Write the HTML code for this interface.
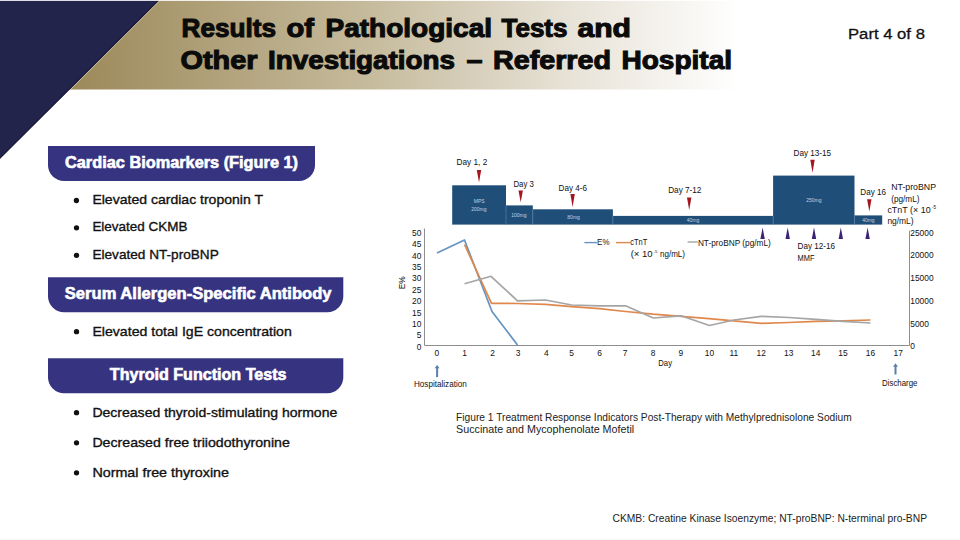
<!DOCTYPE html>
<html><head><meta charset="utf-8">
<style>
html,body{margin:0;padding:0;background:#fff;width:960px;height:540px;overflow:hidden}
svg{display:block}
text{font-family:"Liberation Sans",sans-serif}
</style></head>
<body>
<svg width="960" height="540" viewBox="0 0 960 540">
<defs>
<linearGradient id="gold" x1="70" y1="0" x2="740" y2="0" gradientUnits="userSpaceOnUse">
<stop offset="0" stop-color="#9c895a"/>
<stop offset="0.45" stop-color="#c6bb9d"/>
<stop offset="0.75" stop-color="#e8e3d8"/>
<stop offset="1" stop-color="#ffffff"/>
</linearGradient>
</defs>
<rect width="960" height="540" fill="#fff"/>
<!-- header band -->
<rect x="0" y="0" width="960" height="89.5" fill="url(#gold)"/>
<polygon points="0,0 159.5,0 0,158.8" fill="#23244b"/>
<line x1="160.3" y1="0" x2="70.6" y2="89.5" stroke="#cfc4a0" stroke-width="0.9"/>
<polygon points="159.5,0 0,158.8 0,157.5 158.2,0" fill="#15163a"/>
<rect x="0" y="0" width="960" height="1" fill="#fff" opacity="0.85"/>
<g fill="#0b0b0b" stroke="#0b0b0b" stroke-width="1.1" font-weight="bold" font-size="26.5">
<text x="181.5" y="37.2" textLength="94.5" lengthAdjust="spacingAndGlyphs">Results</text>
<text x="286.5" y="37.2" textLength="27.5" lengthAdjust="spacingAndGlyphs">of</text>
<text x="325.5" y="37.2" textLength="166.5" lengthAdjust="spacingAndGlyphs">Pathological</text>
<text x="501.5" y="37.2" textLength="66.0" lengthAdjust="spacingAndGlyphs">Tests</text>
<text x="577.5" y="37.2" textLength="53.5" lengthAdjust="spacingAndGlyphs">and</text>
<text x="180.5" y="69.3" textLength="77.0" lengthAdjust="spacingAndGlyphs">Other</text>
<text x="268.0" y="69.3" textLength="187.0" lengthAdjust="spacingAndGlyphs">Investigations</text>
<text x="466.5" y="69.3" textLength="16.0" lengthAdjust="spacingAndGlyphs">–</text>
<text x="493.0" y="69.3" textLength="118.0" lengthAdjust="spacingAndGlyphs">Referred</text>
<text x="621.5" y="69.3" textLength="110.5" lengthAdjust="spacingAndGlyphs">Hospital</text>
</g>
<text x="848" y="39" font-size="14.7" fill="#111" stroke="#111" stroke-width="0.3" textLength="76.9" lengthAdjust="spacingAndGlyphs">Part 4 of 8</text>

<!-- section boxes -->
<g fill="#363481">
<path d="M48,146 H315 V165 A16,16 0 0 1 299,181 H64 A16,16 0 0 1 48,165 Z"/>
<path d="M48,277.3 H343.3 V296.3 A16,16 0 0 1 327.3,312.3 H64 A16,16 0 0 1 48,296.3 Z"/>
<path d="M48,358.3 H343.3 V377.3 A16,16 0 0 1 327.3,393.3 H64 A16,16 0 0 1 48,377.3 Z"/>
</g>
<g fill="#fff" stroke="#fff" stroke-width="0.6" font-weight="bold" font-size="16">
<text x="65" y="167.6" textLength="233" lengthAdjust="spacingAndGlyphs">Cardiac Biomarkers (Figure 1)</text>
<text x="64.8" y="298.8" textLength="266.7" lengthAdjust="spacingAndGlyphs">Serum Allergen-Specific Antibody</text>
<text x="109.8" y="379.6" textLength="176.7" lengthAdjust="spacingAndGlyphs">Thyroid Function Tests</text>
</g>

<!-- bullets -->
<g fill="#111">
<circle cx="76.4" cy="200.5" r="2.65"/>
<circle cx="76.5" cy="227.8" r="2.65"/>
<circle cx="76.5" cy="255.3" r="2.65"/>
<circle cx="76.5" cy="331.7" r="2.65"/>
<circle cx="76.5" cy="412.7" r="2.65"/>
<circle cx="76.5" cy="442.8" r="2.65"/>
<circle cx="76.5" cy="472.8" r="2.65"/>
</g>
<g fill="#111" stroke="#111" stroke-width="0.35" font-size="13.5">
<text x="92.4" y="203.8" textLength="170.6" lengthAdjust="spacingAndGlyphs">Elevated cardiac troponin T</text>
<text x="92.4" y="231.3" textLength="95" lengthAdjust="spacingAndGlyphs">Elevated CKMB</text>
<text x="92.4" y="258.8" textLength="126.4" lengthAdjust="spacingAndGlyphs">Elevated NT-proBNP</text>
<text x="92.4" y="335.5" textLength="199.4" lengthAdjust="spacingAndGlyphs">Elevated total IgE concentration</text>
<text x="92.4" y="416.6" textLength="244.9" lengthAdjust="spacingAndGlyphs">Decreased thyroid-stimulating hormone</text>
<text x="92.4" y="446.6" textLength="197.4" lengthAdjust="spacingAndGlyphs">Decreased free triiodothyronine</text>
<text x="92.4" y="476.9" textLength="136.6" lengthAdjust="spacingAndGlyphs">Normal free thyroxine</text>
</g>

<!-- caption and footnote -->
<g fill="#222" font-size="10.3">
<text x="456.1" y="420.8" textLength="395.6" lengthAdjust="spacingAndGlyphs">Figure 1 Treatment Response Indicators Post-Therapy with Methylprednisolone Sodium</text>
<text x="456.1" y="433" textLength="178.1" lengthAdjust="spacingAndGlyphs">Succinate and Mycophenolate Mofetil</text>
</g>
<text x="612.5" y="522.2" font-size="11" fill="#222" textLength="314.5" lengthAdjust="spacingAndGlyphs">CKMB: Creatine Kinase Isoenzyme; NT-proBNP: N-terminal pro-BNP</text>

<rect x="0" y="539" width="960" height="1" fill="#f7f7f7"/>
<!-- CHART -->
<g id="chart">

<!-- timeline bars -->
<g fill="#1f4e78">
<rect x="452.2" y="185.3" width="53.8" height="39.3"/>
<rect x="506" y="205.4" width="26.8" height="19.2"/>
<rect x="532.8" y="209.3" width="80.1" height="15.3"/>
<rect x="612.9" y="215.9" width="160.2" height="8.7"/>
<rect x="773.1" y="175.6" width="81.4" height="49"/>
<rect x="854.5" y="215.4" width="27.7" height="9.2"/>
</g>
<g stroke="#4f7aa6" stroke-width="0.8">
<line x1="506" y1="205.4" x2="506" y2="224.6"/>
<line x1="532.8" y1="209.3" x2="532.8" y2="224.6"/>
<line x1="612.9" y1="215.9" x2="612.9" y2="224.6"/>
<line x1="773.1" y1="215.9" x2="773.1" y2="224.6"/>
<line x1="854.5" y1="215.4" x2="854.5" y2="224.6"/>
</g>
<g fill="#c3d1e2" font-size="5" text-anchor="middle">
<text x="479.2" y="203.2">MPS</text>
<text x="478.8" y="210.6">200mg</text>
<text x="518.9" y="217.2">100mg</text>
<text x="573.6" y="218.8">80mg</text>
<text x="693" y="222">40mg</text>
<text x="813.8" y="201.5">250mg</text>
<text x="868.4" y="221.5">40mg</text>
</g>
<!-- red markers -->
<g fill="#a3161d">
<polygon points="476.8,170 481.2,170 479,182.6"/>
<polygon points="518.5,190.6 522.9,190.6 520.7,202.2"/>
<polygon points="570.4,194.1 574.8,194.1 572.6,206.9"/>
<polygon points="687.0,197.4 691.4,197.4 689.2,210"/>
<polygon points="810.3,159.8 814.7,159.8 812.5,172.7"/>
<polygon points="867.1,199.2 871.5,199.2 869.3,211.4"/>
</g>
<!-- purple markers -->
<g fill="#3d2175">
<polygon points="760.4,239.1 764.8,239.1 762.6,227.5"/>
<polygon points="785.5,239.1 789.9,239.1 787.7,227.5"/>
<polygon points="811.8,239.1 816.2,239.1 814,227.5"/>
<polygon points="838.6,239.1 843,239.1 840.8,227.5"/>
<polygon points="865.4,239.1 869.8,239.1 867.6,227.5"/>
</g>
<g fill="#111" font-size="8.6">
<text x="456.5" y="164.7" textLength="30.8" lengthAdjust="spacingAndGlyphs">Day 1, 2</text>
<text x="513.5" y="186.6" textLength="20.3" lengthAdjust="spacingAndGlyphs">Day 3</text>
<text x="558.6" y="190.6" textLength="28.3" lengthAdjust="spacingAndGlyphs">Day 4-6</text>
<text x="668.2" y="192.5" textLength="33.2" lengthAdjust="spacingAndGlyphs">Day 7-12</text>
<text x="793.5" y="156" textLength="37.6" lengthAdjust="spacingAndGlyphs">Day 13-15</text>
<text x="860.3" y="195.4" textLength="25.7" lengthAdjust="spacingAndGlyphs">Day 16</text>
<text x="891.2" y="189.6" textLength="44.8" lengthAdjust="spacingAndGlyphs">NT-proBNP</text>
<text x="891.2" y="201.5" textLength="28.3" lengthAdjust="spacingAndGlyphs">(pg/mL)</text>
<text x="887.4" y="212.9" textLength="43.2" lengthAdjust="spacingAndGlyphs">cTnT (× 10</text>
<text x="932" y="208.5" font-size="4.5">-5</text>
<text x="887.4" y="224.3" textLength="26.2" lengthAdjust="spacingAndGlyphs">ng/mL)</text>
<text x="797.6" y="248.5" textLength="37.4" lengthAdjust="spacingAndGlyphs">Day 12-16</text>
<text x="797.6" y="261" textLength="16.9" lengthAdjust="spacingAndGlyphs">MMF</text>
</g>
<!-- legend -->
<g stroke-width="1.4">
<line x1="584.4" y1="242.6" x2="597.1" y2="242.6" stroke="#6594c0"/>
<line x1="616" y1="242.6" x2="630.3" y2="242.6" stroke="#e0884c"/>
<line x1="687.6" y1="242" x2="697.9" y2="242" stroke="#a5a5a5"/>
</g>
<g fill="#111" font-size="8.3">
<text x="597.1" y="245" textLength="12.4" lengthAdjust="spacingAndGlyphs">E%</text>
<text x="630.3" y="245" textLength="17" lengthAdjust="spacingAndGlyphs">cTnT</text>
<text x="630.7" y="256.7" textLength="22" lengthAdjust="spacingAndGlyphs">(× 10</text>
<text x="653.5" y="252.5" font-size="4.3">-5</text>
<text x="660" y="256.7" textLength="25" lengthAdjust="spacingAndGlyphs">ng/mL)</text>
<text x="697.9" y="246.4" textLength="72.9" lengthAdjust="spacingAndGlyphs">NT-proBNP (pg/mL)</text>
</g>
<!-- axes -->
<g stroke="#8e8e8e" stroke-width="1" fill="none">
<polyline points="424.5,228.6 424.5,345.5 909.5,345.5 909.5,230.6"/>
</g>
<g fill="#111" font-size="8.4" text-anchor="end">
<text x="421.3" y="235.7">50</text>
<text x="421.3" y="247.1">45</text>
<text x="421.3" y="258.5">40</text>
<text x="421.3" y="269.9">35</text>
<text x="421.3" y="281.3">30</text>
<text x="421.3" y="292.7">25</text>
<text x="421.3" y="304.1">20</text>
<text x="421.3" y="315.5">15</text>
<text x="421.3" y="326.9">10</text>
<text x="421.3" y="338.3">5</text>
<text x="421.3" y="349.7">0</text>
</g>
<g fill="#111" font-size="8.4">
<text x="910.3" y="235.7">25000</text>
<text x="910.3" y="258.4">20000</text>
<text x="910.3" y="281.2">15000</text>
<text x="910.3" y="303.9">10000</text>
<text x="910.3" y="326.7">5000</text>
<text x="910.3" y="349.3">0</text>
</g>
<g fill="#111" font-size="8.4" text-anchor="middle">
<text x="436.75" y="356">0</text>
<text x="464.5" y="356">1</text>
<text x="492.5" y="356">2</text>
<text x="518" y="356">3</text>
<text x="546.3" y="356">4</text>
<text x="571.7" y="356">5</text>
<text x="599.7" y="356">6</text>
<text x="625" y="356">7</text>
<text x="653" y="356">8</text>
<text x="680.8" y="356">9</text>
<text x="709.5" y="356">10</text>
<text x="733.75" y="356">11</text>
<text x="761.25" y="356">12</text>
<text x="788.75" y="356">13</text>
<text x="815.75" y="356">14</text>
<text x="843" y="356">15</text>
<text x="870.5" y="356">16</text>
<text x="898.25" y="356">17</text>
</g>
<text x="658.3" y="365.5" font-size="8.4" fill="#111" textLength="13.7" lengthAdjust="spacingAndGlyphs">Day</text>
<text transform="translate(405,282.8) rotate(-90)" font-size="8.4" fill="#111" text-anchor="middle">E%</text>
<!-- data lines -->
<g fill="none" stroke-width="1.7" stroke-linejoin="round">
<polyline stroke="#6594c0" points="437,253 464.5,240 492,311.5 517.5,345"/>
<polyline stroke="#e0884c" points="464.5,244.5 491.5,303.3 517.5,303.5 545.5,304.3 571.7,306.7 599.5,308.7 625.5,311.5 653,314.2 681,316.3 709,318.7 733.8,320.8 761.3,323.3 788.8,322.5 815.8,321.3 843,320.8 870.5,320"/>
<polyline stroke="#a5a5a5" points="464.5,283.7 491,276.3 517.5,300.8 545.5,300 571.7,305 599.5,305.8 625.5,305.8 653.3,318 681,315.8 709.5,325.5 733.8,320 761.3,316.3 788.8,317.5 815.8,319.3 843,321.3 870.5,323"/>
</g>
<!-- arrows -->
<g fill="#5a80aa">
<rect x="436.1" y="367.5" width="2" height="9.6"/>
<polygon points="434.6,368.3 439.6,368.3 437.1,365"/>
<rect x="894.5" y="366" width="2" height="8.5"/>
<polygon points="893,366.8 898,366.8 895.5,363.3"/>
</g>
<g fill="#111" font-size="8.2">
<text x="414" y="386.9" textLength="52.7" lengthAdjust="spacingAndGlyphs">Hospitalization</text>
<text x="882" y="386.3" textLength="35.5" lengthAdjust="spacingAndGlyphs">Discharge</text>
</g>
</g>
</svg>
</body></html>
